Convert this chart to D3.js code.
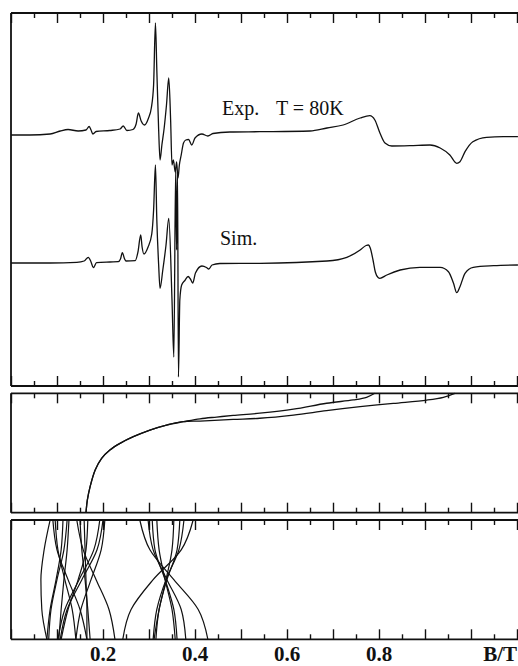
<!DOCTYPE html>
<html>
<head>
<meta charset="utf-8">
<script src="https://cdn.jsdelivr.net/npm/d3@7"></script>
<style>
  body { margin: 0; background: #fff; }
  svg { display: block; }
</style>
</head>
<body>
<svg id="chart" width="518" height="666"></svg>
<script>
// EPR spectrum, B in tesla, signal in arbitrary units (relative to each trace baseline)
const expB   = [0, 0.041, 0.085, 0.107, 0.124, 0.146, 0.163, 0.170, 0.174, 0.178, 0.185, 0.215, 0.237, 0.244, 0.252, 0.265, 0.272, 0.277, 0.283, 0.290, 0.299, 0.305, 0.310, 0.314, 0.317, 0.321, 0.324, 0.328, 0.333, 0.338, 0.343, 0.347, 0.350, 0.353, 0.357, 0.360, 0.363, 0.366, 0.370, 0.375, 0.380, 0.386, 0.393, 0.400, 0.415, 0.428, 0.439, 0.476, 0.541, 0.650, 0.687, 0.722, 0.759, 0.780, 0.791, 0.802, 0.813, 0.828, 0.867, 0.911, 0.933, 0.954, 0.969, 0.976, 0.987, 1.004, 1.034, 1.070, 1.102];
const expVal = [0, 0, 1, 4, 5.5, 4, 5, 8.5, 5, 1, 3.5, 4.5, 6, 9, 4.5, 5.5, 11, 22, 14, 10, 17, 27, 50, 112, 65, 5, -25, -10, 7, 30, 57, 15, -30, -25, -37, -27, -43, -30, -20, -8, -5, -4.5, -10, -3, 1, -1, 1.5, 3, 3.3, 4, 7, 10, 17, 19.3, 15, 2, -8, -11, -10.7, -10, -13, -20, -28.3, -26.7, -16.7, -6.7, -2.3, -1.7, -1.7];

const simB   = [0, 0.085, 0.143, 0.159, 0.168, 0.174, 0.179, 0.186, 0.215, 0.233, 0.238, 0.242, 0.247, 0.250, 0.270, 0.276, 0.282, 0.285, 0.289, 0.298, 0.306, 0.310, 0.314, 0.317, 0.321, 0.324, 0.330, 0.337, 0.343, 0.350, 0.354, 0.358, 0.360, 0.362, 0.364, 0.367, 0.371, 0.378, 0.385, 0.390, 0.395, 0.401, 0.415, 0.425, 0.430, 0.437, 0.454, 0.541, 0.687, 0.730, 0.759, 0.772, 0.777, 0.781, 0.787, 0.792, 0.798, 0.802, 0.817, 0.846, 0.889, 0.933, 0.951, 0.962, 0.969, 0.976, 0.987, 1.005, 1.049, 1.102];
const simVal = [0, 0, 0.7, 2, 5.7, 1, -4.7, 0.3, 1, 1.3, 4, 10.3, 4, 2, 2.3, 11, 28, 16, 9, 16, 29, 53, 98, 43, -2, -25.3, -7, 18, 44.7, -37, -94, 95, 13, 91, -114, -37, -22, -17.5, -13.5, -16, -20, -10, -3, -4.5, -6, -2, -0.5, -0.3, 2, 5.7, 13, 17.5, 18, 15, 3, -9, -14.5, -15.3, -12, -7, -4.3, -4.3, -8.7, -20.3, -29.7, -23.7, -10.3, -4.3, -2.7, -2];

const expOffset = 64.5;
const simOffset = -63.5;

// resonance field vs. angle (degrees) - middle panel
const roadAngle  = [0, 9.6, 19.6, 32.2, 41.0, 47.3, 52.3, 57.3, 62.3, 66.1, 68.6];
const roadShared = [0.163, 0.166, 0.172, 0.183, 0.197, 0.215, 0.237, 0.266, 0.302, 0.338, 0.375];
const upperAngle = [70.8, 72.1, 73.3, 75.0, 78.0, 82.5, 85.0, 87.0, 90];
const upperB     = [0.411, 0.447, 0.483, 0.541, 0.614, 0.686, 0.744, 0.773, 0.791];
const lowerAngle = [69.1, 70.3, 71.2, 73.6, 76.9, 79.9, 82.4, 84.9, 87.0, 90];
const lowerB     = [0.411, 0.483, 0.541, 0.614, 0.686, 0.759, 0.831, 0.904, 0.940, 0.965];

// hyperfine line positions vs. angle - lower panel
const hfAngles = [0, 22.5, 45, 67.5, 90];
const hfLines = [
  [0.085, 0.072, 0.065, 0.067, 0.078],
  [0.091, 0.100, 0.124, 0.150, 0.165],
  [0.096, 0.102, 0.117, 0.133, 0.141],
  [0.113, 0.109, 0.098, 0.085, 0.078],
  [0.122, 0.115, 0.100, 0.087, 0.082],
  [0.126, 0.122, 0.115, 0.109, 0.104],
  [0.143, 0.157, 0.185, 0.213, 0.226],
  [0.150, 0.154, 0.161, 0.167, 0.172],
  [0.159, 0.161, 0.163, 0.165, 0.165],
  [0.193, 0.180, 0.148, 0.117, 0.102],
  [0.200, 0.187, 0.154, 0.122, 0.107],
  [0.204, 0.196, 0.174, 0.152, 0.141],
  [0.167, 0.163, 0.146, 0.124, 0.109],
  [0.280, 0.302, 0.354, 0.407, 0.428],
  [0.298, 0.309, 0.339, 0.370, 0.380],
  [0.307, 0.313, 0.335, 0.354, 0.361],
  [0.317, 0.322, 0.335, 0.350, 0.357],
  [0.396, 0.370, 0.309, 0.261, 0.243],
  [0.376, 0.365, 0.337, 0.317, 0.309],
  [0.367, 0.361, 0.339, 0.322, 0.315],
  [0.354, 0.350, 0.337, 0.322, 0.311]
];

const tickLabels = [0.2, 0.4, 0.6, 0.8];

const serif = "'Liberation Serif', 'DejaVu Serif', 'Times New Roman', serif";
const svg = d3.select("#chart");
const x = d3.scaleLinear().domain([0, 1.1]).range([11, 517]);

const panels = [
  { top: 13, bottom: 386 },
  { top: 393.3, bottom: 512.7 },
  { top: 520, bottom: 639.3 }
];

const yTop = d3.scaleLinear().domain([-186.5, 186.5]).range([386, 13]);
const yMid = d3.scaleLinear().domain([0, 90]).range([512.7, 393.3]);
const yLow = d3.scaleLinear().domain([0, 90]).range([520, 639.3]);

const ink = "#111";
const minorTicks = d3.range(0, 23).map(i => i * 0.05);

// frames and ticks
panels.forEach((p, i) => {
  const g = svg.append("g").attr("class", "panel-" + i);
  g.append("line").attr("x1", 11).attr("x2", 518).attr("y1", p.top).attr("y2", p.top)
    .attr("stroke", ink).attr("stroke-width", 1.8);
  g.append("line").attr("x1", 11).attr("x2", 518).attr("y1", p.bottom).attr("y2", p.bottom)
    .attr("stroke", ink).attr("stroke-width", 1.8);
  g.append("line").attr("x1", 11).attr("x2", 11).attr("y1", p.top).attr("y2", p.bottom)
    .attr("stroke", ink).attr("stroke-width", 1.8);

  const topAxis = d3.axisBottom(x).tickValues(minorTicks).tickSize(0).tickFormat("");
  g.append("g").attr("transform", `translate(0,${p.top})`).call(topAxis)
    .call(a => a.select(".domain").remove())
    .selectAll(".tick line")
    .attr("y2", (d, j) => j % 2 === 0 ? 10 : 5)
    .attr("stroke", ink).attr("stroke-width", 1.4);

  const bottomAxis = d3.axisTop(x).tickValues(minorTicks).tickSize(0).tickFormat("");
  g.append("g").attr("transform", `translate(0,${p.bottom})`).call(bottomAxis)
    .call(a => a.select(".domain").remove())
    .selectAll(".tick line")
    .attr("y2", (d, j) => j % 2 === 0 ? -10 : -5)
    .attr("stroke", ink).attr("stroke-width", 1.4);
});

// spectra
const specLine = (offset) => d3.line()
  .x(d => x(d[0]))
  .y(d => yTop(d[1] + offset))
  .curve(d3.curveMonotoneX);

svg.append("path").datum(d3.zip(expB, expVal))
  .attr("d", specLine(expOffset))
  .attr("fill", "none").attr("stroke", ink).attr("stroke-width", 1.3);

svg.append("path").datum(d3.zip(simB, simVal))
  .attr("d", specLine(simOffset))
  .attr("fill", "none").attr("stroke", ink).attr("stroke-width", 1.3);

svg.append("text").attr("x", 222).attr("y", 115)
  .attr("font-family", serif).attr("font-size", 20).attr("fill", ink)
  .text("Exp.");
svg.append("text").attr("x", 276).attr("y", 115)
  .attr("font-family", serif).attr("font-size", 20).attr("fill", ink)
  .text("T = 80K");
svg.append("text").attr("x", 220).attr("y", 245)
  .attr("font-family", serif).attr("font-size", 20).attr("fill", ink)
  .text("Sim.");

// middle panel: angular dependence
const midLine = d3.line().x(d => x(d[0])).y(d => yMid(d[1])).curve(d3.curveCatmullRom.alpha(0.5));
const upperPts = d3.zip(roadShared, roadAngle).concat(d3.zip(upperB, upperAngle));
const lowerPts = d3.zip(roadShared, roadAngle).concat(d3.zip(lowerB, lowerAngle));
[upperPts, lowerPts].forEach(pts => {
  svg.append("path").datum(pts).attr("d", midLine)
    .attr("fill", "none").attr("stroke", ink).attr("stroke-width", 1.3);
});

// lower panel: hyperfine branches
const lowLine = d3.line().x(d => x(d[0])).y(d => yLow(d[1])).curve(d3.curveMonotoneY);
svg.append("g").selectAll("path").data(hfLines).join("path")
  .attr("d", d => lowLine(d3.zip(d, hfAngles)))
  .attr("fill", "none").attr("stroke", ink).attr("stroke-width", 1.2);

// axis labels
svg.append("g").selectAll("text").data(tickLabels).join("text")
  .attr("x", d => x(d)).attr("y", 661)
  .attr("text-anchor", "middle")
  .attr("font-family", serif).attr("font-weight", "bold").attr("font-size", 21)
  .attr("fill", ink)
  .text(d => d.toFixed(1));
svg.append("text").attr("x", 517).attr("y", 661).attr("text-anchor", "end")
  .attr("font-family", serif).attr("font-weight", "bold").attr("font-size", 21)
  .attr("fill", ink).text("B/T");
</script>
</body>
</html>
